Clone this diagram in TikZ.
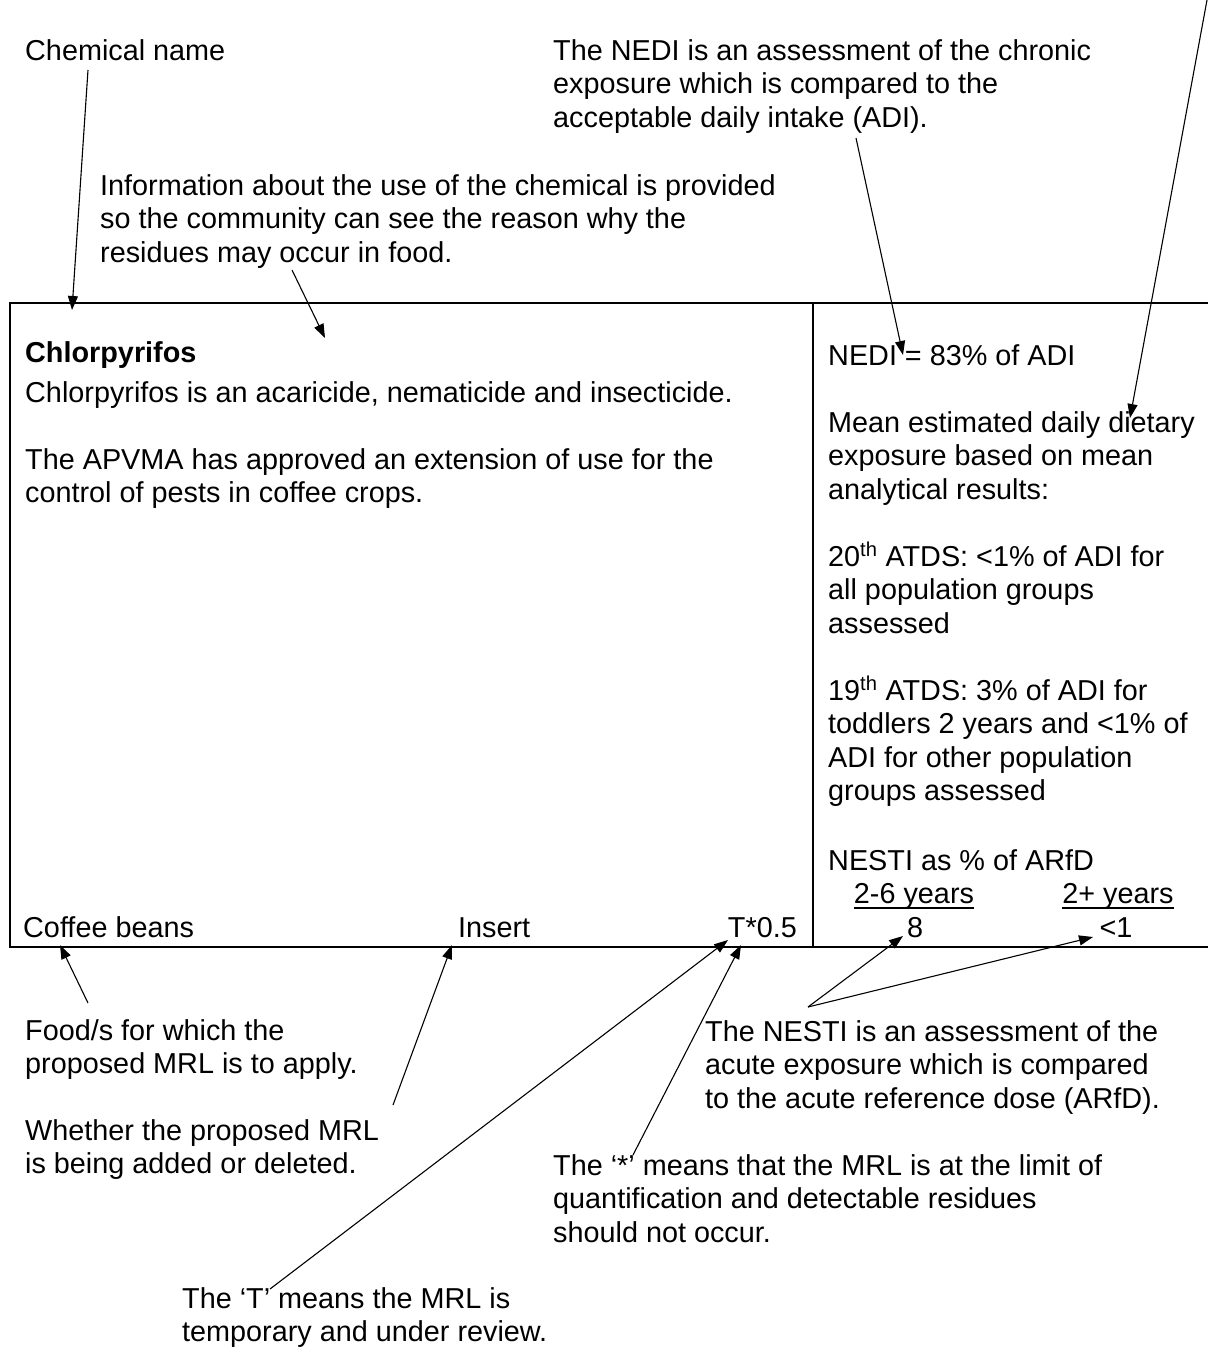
\documentclass[tikz,border=0pt]{standalone}
\usepackage{fontspec}
\setmainfont{Liberation Sans}
\usetikzlibrary{arrows.meta,calc}

\begin{document}
\begin{tikzpicture}[
  x=1pt, y=-1pt,
  font=\fontsize{28.8}{33.6}\selectfont,
  >={Triangle[length=14pt,width=10pt]},
  txt/.style={anchor=base west, inner sep=0pt, align=left},
  cell/.style={anchor=base, inner sep=0pt},
  arr/.style={->, line width=1.1pt},
  frame/.style={line width=2pt},
  uline/.style={line width=1.6pt}
]
\useasboundingbox (0,0) rectangle (1208,1349);

%% ── Callouts above the table (multi-line nodes sit on their last line)
\node[txt] (chem) at (25,60)    {Chemical name};
\node[txt] (nedi) at (553,127.2) {The NEDI is an assessment of the chronic\\
  exposure which is compared to the\\acceptable daily intake (ADI).};
\node[txt] (info) at (100,262.2) {Information about the use of the chemical is provided\\
  so the community can see the reason why the\\residues may occur in food.};

%% ── Table frame ─────────────────────────────────────────────────────
\coordinate (tl)   at (10,303);
\coordinate (tr)   at (1208,303);
\coordinate (bl)   at (10,947);
\coordinate (br)   at (1208,947);
\coordinate (dtop) at (813,303);
\coordinate (dbot) at (813,947);
\draw[frame] (tr) -- (tl) -- (bl) -- (br);
\draw[frame] (dtop) -- (dbot);

%% ── Left cell ───────────────────────────────────────────────────────
\node[txt] (name)  at (25,362)   {\textbf{Chlorpyrifos}};
\node[txt] (use)   at (25,402)   {Chlorpyrifos is an acaricide, nematicide and insecticide.};
\node[txt] (apvma) at (25,502.6) {The APVMA has approved an extension of use for the\\
  control of pests in coffee crops.};

\node[txt] (food)   at (23,937)  {Coffee beans};
\node[txt] (action) at (458,937) {Insert};
\node[anchor=base east, inner sep=0pt] (mrl) at (797,937) {T*0.5};

%% ── Right cell ──────────────────────────────────────────────────────
\node[txt] (nedival) at (828,365)   {NEDI = 83\% of ADI};
\node[txt] (mean)    at (828,499.2) {Mean estimated daily dietary\\
  exposure based on mean\\analytical results:};
\node[txt] (atdsA)   at (828,633.2) {20\textsuperscript{th} ATDS: <1\% of ADI for\\
  all population groups\\assessed};
\node[txt] (atdsB)   at (828,800.8) {19\textsuperscript{th} ATDS: 3\% of ADI for\\
  toddlers 2 years and <1\% of\\ADI for other population\\groups assessed};
\node[txt] (nesti)   at (828,870)   {NESTI as \% of ARfD};

\node[cell] (todd)  at (914,903)  {2-6 years};
\node[cell] (allp)  at (1118,903) {2+ years};
\draw[uline] ([yshift=-5pt]todd.base west) -- ([yshift=-5pt]todd.base east);
\draw[uline] ([yshift=-5pt]allp.base west) -- ([yshift=-5pt]allp.base east);
\node[cell] (vtodd) at (915,937)  {8};
\node[cell] (vallp) at (1116,937) {<1};

%% ── Callouts below the table ────────────────────────────────────────
\node[txt] (foodnote)  at (25,1073.6)  {Food/s for which the\\proposed MRL is to apply.};
\node[txt] (actnote)   at (25,1173.6)  {Whether the proposed MRL\\is being added or deleted.};
\node[txt] (nestinote) at (705,1108.2) {The NESTI is an assessment of the\\
  acute exposure which is compared\\to the acute reference dose (ARfD).};
\node[txt] (starnote)  at (553,1242.2) {The ‘*’ means that the MRL is at the limit of\\
  quantification and detectable residues\\should not occur.};
\node[txt] (tnote)     at (182,1341.6) {The ‘T’ means the MRL is\\temporary and under review.};

%% ── Arrow ends ──────────────────────────────────────────────────────
\coordinate (chemA)  at (88,70);    \coordinate (chemB)  at (72,310);
\coordinate (infoA)  at (292,270);  \coordinate (infoB)  at (325,338);
\coordinate (nediA)  at (856,138);  \coordinate (nediB)  at (903,355);
\coordinate (meanA)  at (1207,0);   \coordinate (meanB)  at (1130,418);
\coordinate (foodA)  at (88,1003);  \coordinate (foodB)  at (60,945);
\coordinate (actA)   at (393,1105); \coordinate (actB)   at (452,945);
\coordinate (tA)     at (270,1289); \coordinate (tB)     at (728,940);
\coordinate (starA)  at (633,1155); \coordinate (starB)  at (741,945);
\coordinate (nestiA) at (808,1007);
\coordinate (nestiB) at (903,936);  \coordinate (nestiC) at (1093,937);

\foreach \a/\b in {chemA/chemB, infoA/infoB, nediA/nediB, meanA/meanB,
                   foodA/foodB, actA/actB, tA/tB, starA/starB,
                   nestiA/nestiB, nestiA/nestiC}
  \draw[arr] (\a) -- (\b);

\end{tikzpicture}
\end{document}
